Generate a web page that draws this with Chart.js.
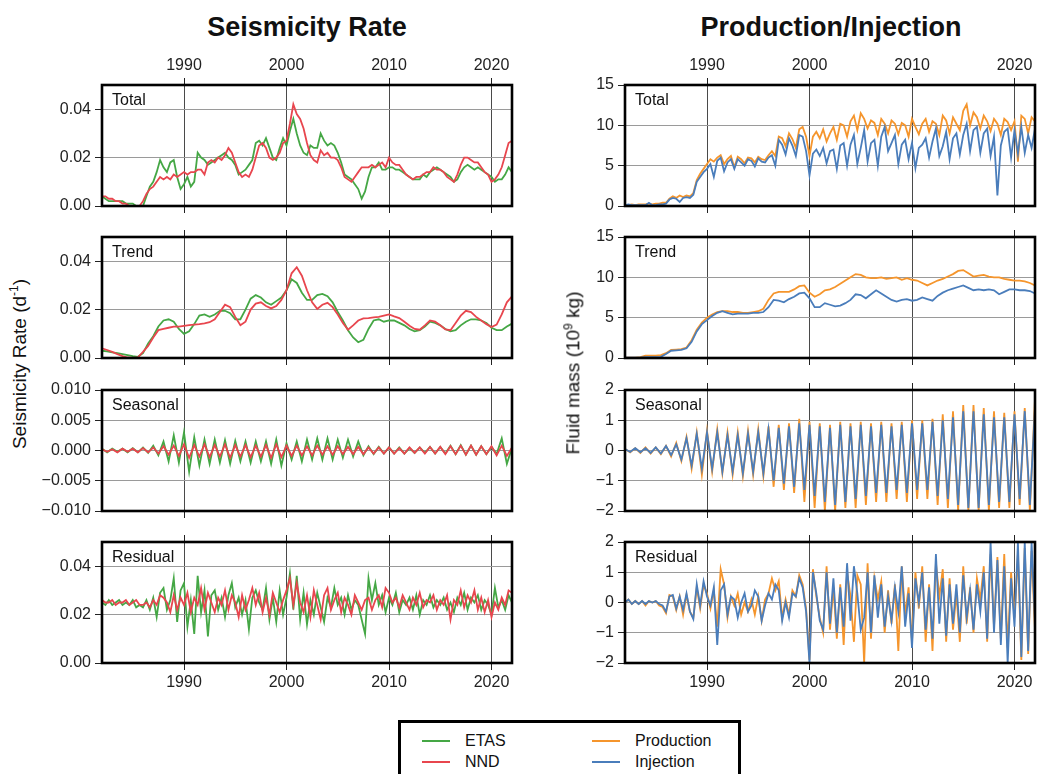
<!DOCTYPE html>
<html>
<head>
<meta charset="utf-8">
<script src="https://cdn.jsdelivr.net/npm/chart.js@4.4.1/dist/chart.umd.min.js"></script>
<style>
  body { margin: 0; width: 1037px; height: 774px; overflow: hidden; background: #fff; position: relative;
         font-family: "Liberation Sans", Arial, Helvetica, sans-serif; color: #111; }
  canvas { position: absolute; }
  .title { position: absolute; font-weight: bold; font-size: 27px; transform: translate(-50%, -50%); white-space: nowrap; z-index: 2; }
  .plabel { position: absolute; font-size: 16px; line-height: 18px; z-index: 2; }
  .ytitle { position: absolute; font-size: 19px; white-space: nowrap; transform: translate(-50%, -50%) rotate(-90deg); z-index: 2; }
  .ytitle sup { font-size: 12px; }
  .legend { position: absolute; left: 398px; top: 720px; width: 343px; height: 80px; border: 3px solid #000; box-sizing: border-box; background: #fff; z-index: 2; }
  .lg { position: absolute; font-size: 16px; line-height: 18px; }
  .sw { position: absolute; height: 2px; width: 28px; }
</style>
</head>
<body>
<div class="title" style="left:307px;top:27px">Seismicity Rate</div>
<div class="title" style="left:831px;top:27px">Production/Injection</div>
<div class="ytitle" style="left:19px;top:364px">Seismicity Rate (d<sup>-1</sup>)</div>
<div class="ytitle" style="left:573px;top:373px">Fluid mass (10<sup>9</sup> kg)</div>
<div class="legend" id="legend"></div>

<script>
// time axes (decimal years)
const T3 = Array.from({ length: 121 }, (_, i) => 1982 + i / 3);
const T2 = Array.from({ length: 81 }, (_, i) => 1982 + i / 2);
const yearTicks = [1990, 2000, 2010, 2020];

// --- Seismicity rate (d^-1) ---
const etasTotal = [
  0.004, 0.003, 0.002, 0.002, 0.002, 0.002, 0.002, 0.001, 0.001, 0.001, 0.0, 0.0,
  0.0, 0.004, 0.008, 0.010, 0.014, 0.019, 0.016, 0.014, 0.018, 0.019, 0.012, 0.007,
  0.009, 0.012, 0.008, 0.010, 0.022, 0.020, 0.019, 0.017, 0.018, 0.019, 0.020, 0.021,
  0.022, 0.020, 0.019, 0.017, 0.013, 0.014, 0.015, 0.017, 0.019, 0.026, 0.027, 0.025,
  0.028, 0.024, 0.020, 0.019, 0.024, 0.028, 0.025, 0.031, 0.036, 0.030, 0.025, 0.022,
  0.021, 0.025, 0.024, 0.024, 0.030, 0.027, 0.025, 0.026, 0.025, 0.022, 0.018, 0.013,
  0.012, 0.011, 0.009, 0.007, 0.003, 0.006, 0.012, 0.016, 0.016, 0.018, 0.015, 0.015,
  0.016, 0.016, 0.015, 0.015, 0.014, 0.013, 0.012, 0.011, 0.011, 0.011, 0.013, 0.012,
  0.014, 0.015, 0.016, 0.015, 0.014, 0.013, 0.012, 0.010, 0.011, 0.014, 0.016, 0.017,
  0.016, 0.015, 0.016, 0.015, 0.014, 0.013, 0.012, 0.010, 0.011, 0.011, 0.013, 0.016,
  0.014
];
const nndTotal = [
  0.004, 0.004, 0.003, 0.003, 0.002, 0.002, 0.001, 0.001, 0.0, 0.0, 0.0, 0.0,
  0.002, 0.005, 0.007, 0.008, 0.010, 0.012, 0.011, 0.012, 0.011, 0.013, 0.012, 0.013,
  0.014, 0.013, 0.014, 0.014, 0.015, 0.015, 0.013, 0.018, 0.019, 0.018, 0.020, 0.019,
  0.021, 0.024, 0.022, 0.018, 0.014, 0.012, 0.013, 0.012, 0.015, 0.020, 0.025, 0.026,
  0.024, 0.020, 0.019, 0.020, 0.022, 0.026, 0.027, 0.034, 0.042, 0.038, 0.036, 0.032,
  0.026, 0.021, 0.019, 0.018, 0.023, 0.021, 0.022, 0.020, 0.020, 0.019, 0.016, 0.012,
  0.011, 0.010, 0.012, 0.014, 0.016, 0.016, 0.016, 0.017, 0.016, 0.017, 0.018, 0.016,
  0.020, 0.018, 0.017, 0.017, 0.015, 0.013, 0.012, 0.011, 0.012, 0.012, 0.013, 0.014,
  0.014, 0.016, 0.015, 0.015, 0.014, 0.012, 0.011, 0.010, 0.013, 0.017, 0.020, 0.020,
  0.019, 0.018, 0.018, 0.016, 0.014, 0.013, 0.010, 0.011, 0.013, 0.016, 0.021, 0.026,
  0.027
];
const etasTrend = [
  0.0030, 0.0027, 0.0023, 0.0020, 0.0016, 0.0012, 0.0008, 0.0005, 0.0020, 0.0060,
  0.0090, 0.0130, 0.0155, 0.0160, 0.0150, 0.0120, 0.0100, 0.0110, 0.0140, 0.0175,
  0.0180, 0.0170, 0.0180, 0.0195, 0.0195, 0.0185, 0.0160, 0.0160, 0.0200, 0.0245,
  0.0260, 0.0250, 0.0230, 0.0220, 0.0235, 0.0250, 0.0280, 0.0325, 0.0310, 0.0270,
  0.0240, 0.0240, 0.0260, 0.0265, 0.0255, 0.0230, 0.0190, 0.0155, 0.0115, 0.0085,
  0.0065, 0.0075, 0.0120, 0.0155, 0.0160, 0.0150, 0.0155, 0.0155, 0.0145, 0.0135,
  0.0120, 0.0110, 0.0115, 0.0130, 0.0150, 0.0145, 0.0135, 0.0120, 0.0110, 0.0115,
  0.0135, 0.0150, 0.0160, 0.0160, 0.0155, 0.0145, 0.0125, 0.0115, 0.0115, 0.0130,
  0.0142
];
const nndTrend = [
  0.0040, 0.0033, 0.0025, 0.0016, 0.0008, 0.0002, 0.0000, 0.0003, 0.0025, 0.0050,
  0.0085, 0.0115, 0.0120, 0.0125, 0.0130, 0.0130, 0.0133, 0.0136, 0.0138, 0.0140,
  0.0143, 0.0148, 0.0160, 0.0190, 0.0220, 0.0210, 0.0170, 0.0135, 0.0150, 0.0200,
  0.0225, 0.0230, 0.0215, 0.0205, 0.0215, 0.0240, 0.0280, 0.0350, 0.0375, 0.0340,
  0.0280, 0.0230, 0.0203, 0.0220, 0.0228, 0.0210, 0.0180, 0.0145, 0.0117, 0.0135,
  0.0155, 0.0164, 0.0165, 0.0168, 0.0170, 0.0175, 0.0180, 0.0172, 0.0165, 0.0150,
  0.0133, 0.0120, 0.0117, 0.0135, 0.0155, 0.0150, 0.0135, 0.0118, 0.0115, 0.0145,
  0.0175, 0.0195, 0.0190, 0.0170, 0.0155, 0.0140, 0.0128, 0.0138, 0.0180, 0.0230,
  0.0255
];
const etasSeasonal = [
  0.0003, -0.0003, 0.0003, -0.0002, 0.0003, -0.0003, 0.0004, -0.0003, 0.0005, -0.0004,
  0.0008, -0.0008, 0.0015, -0.0018, 0.0025, -0.0020, 0.0030, -0.0035, 0.0022, -0.0025,
  0.0018, -0.0022, 0.0018, -0.0020, 0.0017, -0.0022, 0.0016, -0.0018, 0.0015, -0.0020,
  0.0015, -0.0018, 0.0015, -0.0022, 0.0018, -0.0025, 0.0012, -0.0015, 0.0015, -0.0018,
  0.0018, -0.0015, 0.0020, -0.0015, 0.0020, -0.0015, 0.0018, -0.0012, 0.0018, -0.0010,
  0.0015, -0.0008, 0.0007, -0.0006, 0.0006, -0.0005, 0.0005, -0.0005, 0.0005, -0.0005,
  0.0004, -0.0004, 0.0005, -0.0004, 0.0006, -0.0005, 0.0006, -0.0005, 0.0008, -0.0006,
  0.0009, -0.0007, 0.0008, -0.0007, 0.0007, -0.0006, 0.0006, -0.0006, 0.0020, -0.0022,
  0.0005
];
const nndSeasonal = [
  0.0002, -0.0002, 0.0002, -0.0003, 0.0003, -0.0002, 0.0003, -0.0003, 0.0004, -0.0003,
  0.0005, -0.0005, 0.0007, -0.0007, 0.0008, -0.0009, 0.0010, -0.0012, 0.0009, -0.0010,
  0.0010, -0.0011, 0.0009, -0.0010, 0.0010, -0.0012, 0.0009, -0.0010, 0.0009, -0.0011,
  0.0008, -0.0010, 0.0009, -0.0012, 0.0010, -0.0011, 0.0008, -0.0009, 0.0008, -0.0008,
  0.0007, -0.0008, 0.0008, -0.0007, 0.0007, -0.0007, 0.0007, -0.0006, 0.0006, -0.0006,
  0.0006, -0.0006, 0.0005, -0.0005, 0.0005, -0.0005, 0.0005, -0.0005, 0.0004, -0.0005,
  0.0005, -0.0004, 0.0005, -0.0005, 0.0006, -0.0005, 0.0006, -0.0006, 0.0007, -0.0006,
  0.0008, -0.0007, 0.0008, -0.0007, 0.0007, -0.0006, 0.0007, -0.0008, 0.0008, -0.0009,
  0.0005
];
const etasResidual = [
  0.025, 0.024, 0.026, 0.024, 0.025, 0.026, 0.024, 0.025, 0.024, 0.026, 0.023, 0.024,
  0.023, 0.026, 0.022, 0.027, 0.019, 0.029, 0.031, 0.022, 0.026, 0.035, 0.017, 0.030,
  0.033, 0.015, 0.026, 0.012, 0.036, 0.021, 0.030, 0.011, 0.028, 0.030, 0.022, 0.027,
  0.019, 0.028, 0.033, 0.023, 0.027, 0.020, 0.026, 0.014, 0.027, 0.030, 0.025, 0.022,
  0.031, 0.018, 0.027, 0.017, 0.030, 0.020, 0.027, 0.037, 0.022, 0.036, 0.018, 0.029,
  0.016, 0.026, 0.020, 0.029, 0.023, 0.017, 0.027, 0.023, 0.031, 0.024, 0.027, 0.020,
  0.028, 0.022, 0.026, 0.024, 0.018, 0.012, 0.035, 0.026, 0.033, 0.024, 0.028, 0.021,
  0.027, 0.024, 0.029, 0.021, 0.026, 0.024, 0.027, 0.022, 0.028, 0.020, 0.026, 0.024,
  0.028, 0.023, 0.026, 0.024, 0.027, 0.022, 0.025, 0.021, 0.027, 0.024, 0.029, 0.022,
  0.027, 0.025, 0.028, 0.022, 0.026, 0.024, 0.020, 0.031, 0.023, 0.026, 0.022, 0.028,
  0.025
];
const nndResidual = [
  0.026, 0.025, 0.025, 0.026, 0.024, 0.025, 0.025, 0.026, 0.024, 0.025, 0.026, 0.024,
  0.024, 0.025, 0.023, 0.026, 0.024, 0.028, 0.027, 0.025, 0.021, 0.028, 0.022, 0.027,
  0.024, 0.029, 0.021, 0.027, 0.024, 0.031, 0.022, 0.029, 0.025, 0.021, 0.027, 0.024,
  0.030, 0.022, 0.028, 0.025, 0.019, 0.028, 0.022, 0.026, 0.031, 0.024, 0.029, 0.021,
  0.027, 0.020, 0.029, 0.025, 0.021, 0.026, 0.030, 0.035, 0.024, 0.033, 0.025, 0.021,
  0.028, 0.019, 0.030, 0.024, 0.018, 0.028, 0.031, 0.022, 0.026, 0.029, 0.021, 0.027,
  0.024, 0.020, 0.028, 0.025, 0.022, 0.026, 0.027, 0.022, 0.026, 0.028, 0.023, 0.031,
  0.029, 0.025, 0.027, 0.023, 0.028, 0.025, 0.022, 0.027, 0.024, 0.029, 0.023, 0.026,
  0.025, 0.028, 0.022, 0.026, 0.024, 0.028, 0.018, 0.026, 0.024, 0.030, 0.023, 0.028,
  0.025, 0.030, 0.022, 0.027, 0.021, 0.026, 0.019, 0.025, 0.022, 0.027, 0.024, 0.030,
  0.029
];

// --- Fluid mass (10^9 kg) ---
const prodTotal = [
  0.1, 0.1, 0.2, 0.1, 0.2, 0.2, 0.2, 0.3, 0.2, 0.3, 0.3, 0.4,
  0.4, 0.9, 1.2, 1.0, 1.3, 1.1, 1.3, 1.2, 1.6, 3.2, 4.0, 4.6,
  5.2, 5.8, 5.5, 6.0, 6.3, 5.2, 5.8, 6.2, 4.8, 6.1, 5.8, 5.3,
  6.0, 5.9, 5.4, 6.1, 5.8, 5.7, 6.3, 6.8, 6.2, 8.6, 8.4, 7.4,
  9.0, 8.3, 7.2, 9.5, 9.8, 8.6, 6.2, 8.6, 9.2, 8.4, 9.5, 8.0,
  9.0, 9.8, 8.2, 10.2, 10.0, 8.6, 10.5, 11.2, 9.4, 11.5, 10.8, 9.6,
  10.6, 10.3, 8.8, 10.8, 10.2, 9.0, 10.6, 10.2, 8.9, 10.3, 10.0, 8.6,
  10.8, 9.8, 8.9, 10.2, 10.8, 9.2, 10.5, 10.2, 8.8, 11.2, 10.6, 9.0,
  11.0, 10.2, 9.4, 11.8, 12.6, 10.0, 11.6, 11.0, 9.6, 11.2, 10.5, 9.3,
  10.8, 10.2, 8.8, 10.8, 10.4, 9.4, 10.5, 5.5, 11.2, 10.8, 9.0, 11.0,
  10.5
];
const injTotal = [
  0.1, 0.2, 0.1, 0.1, 0.1, 0.1, 0.1, 0.4, 0.1, 0.1, 0.2, 0.2,
  0.3, 0.8, 1.0, 0.9, 0.5, 1.0, 1.1, 1.0, 1.4, 3.0, 3.6, 4.2,
  4.6, 5.2, 3.6, 5.6, 6.0, 4.3, 5.4, 5.8, 4.6, 5.8, 5.4, 5.0,
  5.8, 5.6, 4.9, 5.9, 5.5, 5.4, 6.0, 6.3, 5.0, 8.2, 7.6, 6.4,
  8.4, 7.5, 6.2, 8.8, 8.6, 6.8, 3.8, 6.5, 7.0, 6.2, 7.2, 5.3,
  6.8, 7.0, 4.6, 7.5, 7.8, 5.0, 7.6, 8.8, 5.2, 7.2, 9.4, 5.5,
  7.8, 8.2, 5.0, 8.6, 9.8, 6.8, 7.8, 8.8, 5.2, 7.6, 8.2, 5.8,
  7.8, 4.7, 7.2, 7.6, 8.4, 6.0, 8.0, 9.6, 6.2, 7.4, 9.2, 5.8,
  8.4, 9.0, 6.4, 8.8, 10.2, 6.8, 9.4, 9.8, 6.6, 9.0, 9.6, 6.2,
  8.6, 1.3, 7.5, 9.2, 9.6, 6.0, 9.4, 6.5, 9.8, 6.6, 8.8, 7.2,
  9.6
];
const prodTrend = [
  0.05, 0.05, 0.05, 0.1, 0.3, 0.3, 0.3, 0.35, 0.6, 1.0,
  1.05, 1.1, 1.3, 2.2, 3.5, 4.4, 5.0, 5.4, 5.7, 5.8,
  5.8, 5.7, 5.7, 5.6, 5.6, 5.7, 5.8, 6.1, 7.2, 8.0,
  8.2, 8.2, 8.2, 8.5, 8.9, 9.0, 8.1, 7.6, 7.9, 8.4,
  8.5, 8.8, 9.2, 9.6, 10.0, 10.4, 10.3, 10.0, 9.9, 9.9,
  10.0, 9.8, 9.9, 10.0, 9.7, 9.9, 9.7, 9.6, 9.3, 9.0,
  9.3, 9.6, 9.8, 10.1, 10.4, 10.8, 10.9, 10.5, 10.1, 10.2,
  10.3, 10.1, 10.0, 10.0, 9.8, 9.7, 9.6, 9.6, 9.5, 9.3,
  9.0
];
const injTrend = [
  0.05, 0.05, 0.05, 0.05, 0.1, 0.1, 0.1, 0.15, 0.5, 0.9,
  0.95, 1.0, 1.2, 2.0, 3.3, 4.2, 4.7, 5.2, 5.6, 5.8,
  5.6, 5.4, 5.5, 5.5, 5.5, 5.6, 5.6, 5.7, 6.3, 7.2,
  7.1, 6.9, 7.3, 7.6, 8.0, 8.1, 7.4, 6.3, 6.3, 6.8,
  6.6, 6.4, 6.5, 6.8, 7.2, 7.9, 7.8, 7.4, 7.9, 8.4,
  8.0, 7.6, 7.2, 7.0, 7.2, 7.3, 7.1, 7.2, 7.5, 7.3,
  7.1, 7.7, 8.1, 8.4, 8.6, 8.8, 9.0, 8.7, 8.4, 8.5,
  8.4, 8.5, 8.4, 7.9, 8.2, 8.5, 8.5, 8.4, 8.4, 8.3,
  8.0
];
const prodSeasonal = [
  0.05, -0.06, 0.08, -0.08, 0.1, -0.1, 0.1, -0.12, 0.15, -0.2,
  0.25, -0.35, 0.45, -0.6, 0.6, -0.8, 0.65, -0.7, 0.7, -0.75,
  0.6, -0.8, 0.6, -0.85, 0.65, -0.8, 0.7, -0.85, 0.8, -1.2,
  0.85, -1.3, 0.9, -1.4, 1.05, -1.7, 0.95, -1.9, 0.9, -2.0,
  0.85, -2.0, 0.95, -1.9, 0.9, -1.9, 0.95, -1.8, 0.9, -1.7,
  0.95, -1.7, 0.9, -1.6, 0.95, -1.7, 1.0, -1.6, 1.0, -1.6,
  1.05, -1.8, 1.2, -1.9, 1.3, -2.0, 1.5, -2.0, 1.5, -2.0,
  1.4, -2.0, 1.3, -1.9, 1.25, -1.9, 1.3, -1.8, 1.4, -2.0,
  1.7
];
const injSeasonal = [
  0.05, -0.05, 0.08, -0.06, 0.08, -0.08, 0.1, -0.1, 0.15, -0.15,
  0.2, -0.3, 0.4, -0.5, 0.55, -0.6, 0.6, -0.6, 0.6, -0.7,
  0.5, -0.7, 0.5, -0.75, 0.55, -0.7, 0.6, -0.75, 0.7, -1.0,
  0.75, -1.1, 0.8, -1.2, 0.9, -1.3, 0.85, -1.5, 0.8, -1.7,
  0.75, -1.8, 0.85, -1.7, 0.8, -1.6, 0.85, -1.5, 0.8, -1.4,
  0.85, -1.4, 0.8, -1.3, 0.85, -1.4, 0.9, -1.3, 0.9, -1.3,
  0.95, -1.5, 1.0, -1.6, 1.1, -1.8, 1.3, -1.9, 1.3, -1.9,
  1.2, -1.8, 1.1, -1.7, 1.1, -1.7, 1.2, -1.6, 1.3, -1.8,
  1.4
];
const prodResidual = [
  0.0, 0.1, -0.05, 0.05, -0.05, 0.05, -0.1, 0.05, 0.0, 0.05, -0.1, -0.15,
  -0.35, 0.25, 0.2, -0.25, 0.2, -0.4, 0.25, -0.3, -0.5, 0.5, -0.2, 0.6,
  0.3, -0.2, 0.4, -0.8, 1.1, 0.6, -0.5, 0.2, -0.1, 0.3, -0.4, 0.0,
  -0.3, 0.1, -0.4, 0.2, -0.6, 0.1, 0.3, 0.8, 0.4, 0.7, -0.5, 0.1,
  -0.4, 0.4, 0.2, 0.9, 0.6, -0.2, -1.9, 1.1, 0.2, -0.5, -1.0, 1.2,
  -0.9, 0.5, -1.2, 0.6, -1.4, 1.0, 0.2, -1.3, 0.9, 0.6, -2.0, 1.3,
  -1.2, 0.8, 0.1, 0.7, -1.0, 0.4, -0.7, 0.6, -1.6, 1.2, -0.4, 0.5,
  -1.3, 1.0, -0.2, 1.2, -1.3, 0.6, -1.6, 1.3, 0.2, 1.1, -1.3, 0.8,
  -0.9, 0.3, -1.3, 1.2, -0.7, 0.5, -1.0, 0.8, 0.1, 1.2, -1.3, 1.6,
  -0.8, 1.5, -1.2, 1.6, -1.5, 1.0, -0.5, 1.6, -1.9, 1.8, -1.7, 1.7,
  -0.9
];
const injResidual = [
  0.0, 0.1, -0.05, 0.05, -0.05, 0.05, -0.05, 0.05, 0.0, 0.05, -0.05, -0.1,
  -0.3, 0.2, 0.25, -0.2, 0.2, -0.25, 0.3, -0.3, -0.55, 0.6, -0.1, 0.7,
  0.2, -0.1, 0.5, -1.4, 0.4, 0.6, -0.4, 0.2, 0.1, -0.5, 0.0, 0.3,
  -0.3, -0.1, 0.4, 0.2, -0.6, -0.1, 0.3, 0.1, 0.6, 0.4, -0.6, 0.0,
  -0.5, 0.3, 0.2, 0.8, 0.5, -0.3, -2.0, 1.0, 0.3, -0.6, -0.9, 1.0,
  -0.7, 0.8, -1.0, 0.5, -0.8, 1.3, -0.6, 1.2, 0.3, -0.9, -0.5, 1.0,
  -1.0, 0.9, -0.5, 0.6, -0.8, 0.2, -0.6, 0.5, -0.3, 1.2, -0.8, 0.3,
  -1.5, 0.8, 0.0, 1.0, -0.9, 0.5, -1.2, 1.6, -0.7, 0.8, -1.1, 0.6,
  -0.7, 0.6, -1.0, 0.9, -0.5, 0.4, -0.9, 0.6, -0.3, 1.0, -1.2, 2.0,
  -1.0, 1.4, -1.4, 1.2, -2.0, 0.8, -0.8, 2.0, -1.8, 2.0, -1.6, 2.0,
  -0.6
];

// tick values per panel kind
const rateTicks = [0, 0.02, 0.04];
const rateSeasTicks = [-0.01, -0.005, 0, 0.005, 0.01];
const massTicks = [0, 5, 10, 15];
const massSeasTicks = [-2, -1, 0, 1, 2];

const COLORS = { etas: '#45a745', nnd: '#e8464e', prod: '#f5952c', inj: '#4a7dbb' };

// layout
const COL_X = [102, 625];
const ROW_Y = [85, 237, 390, 542];
const PW = 410, PH = 121, AXW = 60, AXH = 30, PADR = 6;

const minus = s => s.replace('-', '\u2212');

const framePlugin = {
  id: 'frame',
  afterDraw(c) {
    const a = c.chartArea, ctx = c.ctx;
    ctx.save();
    ctx.strokeStyle = '#000';
    ctx.lineWidth = 2.6;
    ctx.strokeRect(a.left, a.top, a.right - a.left, a.bottom - a.top);
    ctx.restore();
  }
};

function series(xs, ys, color, order) {
  return {
    data: xs.map((x, i) => ({ x, y: ys[i] })),
    borderColor: color, borderWidth: 1.8, pointRadius: 0, tension: 0, fill: false, order
  };
}

function xAxis(pos, showLabels, onArea) {
  return {
    type: 'linear', position: pos, min: 1982, max: 2022,
    afterBuildTicks: s => { s.ticks = yearTicks.map(v => ({ value: v })); },
    afterFit: s => { s.height = AXH; },
    border: { display: false },
    grid: { color: '#4a4a4a', lineWidth: 1, tickLength: 7, tickColor: '#222', drawOnChartArea: onArea },
    ticks: { color: '#222', font: { size: 16, family: 'Liberation Sans' }, padding: 3, maxRotation: 0,
             callback: v => showLabels ? String(v) : '' }
  };
}

function makePanel(col, row, datasets, yMin, yMax, yTicks, fmt, label) {
  const cv = document.createElement('canvas');
  cv.width = AXW + PW + PADR;
  cv.height = AXH + PH + AXH;
  cv.style.left = (COL_X[col] - AXW) + 'px';
  cv.style.top = (ROW_Y[row] - AXH) + 'px';
  document.body.appendChild(cv);

  const lb = document.createElement('div');
  lb.className = 'plabel';
  lb.textContent = label;
  lb.style.left = (COL_X[col] + 10) + 'px';
  lb.style.top = (ROW_Y[row] + 6) + 'px';
  document.body.appendChild(lb);

  new Chart(cv, {
    type: 'line',
    data: { datasets },
    options: {
      responsive: false, animation: false,
      layout: { padding: { left: 0, right: PADR, top: 0, bottom: 0 } },
      plugins: { legend: { display: false }, tooltip: { enabled: false } },
      scales: {
        x: xAxis('bottom', row === 3, true),
        xTop: xAxis('top', row === 0, false),
        y: {
          type: 'linear', min: yMin, max: yMax,
          afterBuildTicks: s => { s.ticks = yTicks.map(v => ({ value: v })); },
          afterFit: s => { s.width = AXW; },
          border: { display: false },
          grid: { color: '#9a9a9a', lineWidth: 1, tickLength: 7, tickColor: '#222' },
          ticks: { color: '#222', font: { size: 16, family: 'Liberation Sans' }, padding: 4, callback: fmt }
        }
      }
    },
    plugins: [framePlugin]
  });
}

const fmtRate = v => v.toFixed(2);
const fmtRateSeas = v => minus(v.toFixed(3));
const fmtMass = v => String(v);
const fmtMassSeas = v => minus(String(v));

// left column: seismicity rate
makePanel(0, 0, [series(T3, nndTotal, COLORS.nnd, 1), series(T3, etasTotal, COLORS.etas, 2)], 0, 0.05, rateTicks, fmtRate, 'Total');
makePanel(0, 1, [series(T2, nndTrend, COLORS.nnd, 1), series(T2, etasTrend, COLORS.etas, 2)], 0, 0.05, rateTicks, fmtRate, 'Trend');
makePanel(0, 2, [series(T2, nndSeasonal, COLORS.nnd, 1), series(T2, etasSeasonal, COLORS.etas, 2)], -0.01, 0.01, rateSeasTicks, fmtRateSeas, 'Seasonal');
makePanel(0, 3, [series(T3, nndResidual, COLORS.nnd, 1), series(T3, etasResidual, COLORS.etas, 2)], 0, 0.05, rateTicks, fmtRate, 'Residual');

// right column: production / injection
makePanel(1, 0, [series(T3, injTotal, COLORS.inj, 1), series(T3, prodTotal, COLORS.prod, 2)], 0, 15, massTicks, fmtMass, 'Total');
makePanel(1, 1, [series(T2, injTrend, COLORS.inj, 1), series(T2, prodTrend, COLORS.prod, 2)], 0, 15, massTicks, fmtMass, 'Trend');
makePanel(1, 2, [series(T2, injSeasonal, COLORS.inj, 1), series(T2, prodSeasonal, COLORS.prod, 2)], -2, 2, massSeasTicks, fmtMassSeas, 'Seasonal');
makePanel(1, 3, [series(T3, injResidual, COLORS.inj, 1), series(T3, prodResidual, COLORS.prod, 2)], -2, 2, massSeasTicks, fmtMassSeas, 'Residual');

// legend
const legendItems = [
  { name: 'ETAS', color: COLORS.etas, x: 21, y: 9 },
  { name: 'NND', color: COLORS.nnd, x: 21, y: 30 },
  { name: 'Production', color: COLORS.prod, x: 191, y: 9 },
  { name: 'Injection', color: COLORS.inj, x: 191, y: 30 }
];
const lgBox = document.getElementById('legend');
legendItems.forEach(it => {
  const sw = document.createElement('div');
  sw.className = 'sw';
  sw.style.background = it.color;
  sw.style.left = it.x + 'px';
  sw.style.top = (it.y + 8) + 'px';
  lgBox.appendChild(sw);
  const tx = document.createElement('div');
  tx.className = 'lg';
  tx.textContent = it.name;
  tx.style.left = (it.x + 43) + 'px';
  tx.style.top = it.y + 'px';
  lgBox.appendChild(tx);
});
</script>
</body>
</html>
